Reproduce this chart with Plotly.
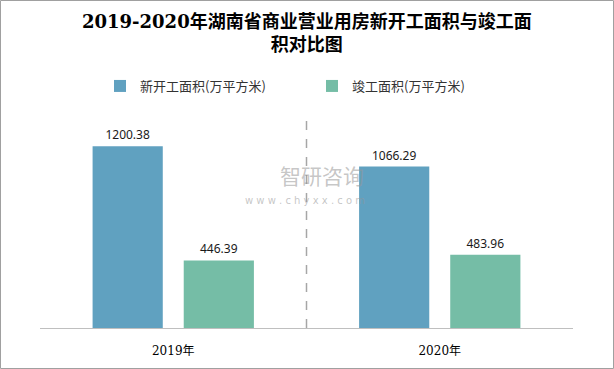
import plotly.graph_objects as go

categories = ["2019年", "2020年"]
new_start = [1200.38, 1066.29]
completed = [446.39, 483.96]
series_names = ["新开工面积(万平方米)", "竣工面积(万平方米)"]
title_text = "2019-2020年湖南省商业营业用房新开工面积与竣工面<br>积对比图"

W, H = 614, 369
ML, MR, MT, MB = 40, 41, 116, 41
PW, PH = W - ML - MR, H - MT - MB

def px(x):
    return (x - ML) / PW

def py(y):
    return (H - MB - y) / PH

fig = go.Figure()
fig.add_trace(go.Bar(
    x=categories, y=new_start, name=series_names[0],
    marker=dict(color="#60A1C0", line=dict(width=0)),
    text=[f"{v:.2f}" for v in new_start], textposition="outside",
    textfont=dict(family="Noto Sans, DejaVu Sans", size=12, color="#1a1a1a"),
    cliponaxis=False,
))
fig.add_trace(go.Bar(
    x=categories, y=completed, name=series_names[1],
    marker=dict(color="#75BDA6", line=dict(width=0)),
    text=[f"{v:.2f}" for v in completed], textposition="outside",
    textfont=dict(family="Noto Sans, DejaVu Sans", size=12, color="#1a1a1a"),
    cliponaxis=False,
))

shapes = [
    dict(type="line", xref="x", yref="paper", x0=0.5, x1=0.5, y0=0, y1=1,
         line=dict(color="#a6a6a6", width=1.5, dash="dash")),
    dict(type="rect", xref="paper", yref="paper",
         x0=px(0.5), x1=px(W - 0.5), y0=py(0.5), y1=py(H - 0.5),
         line=dict(color="#a0a0a0", width=1)),
]

annotations = [
    dict(text="<b>" + title_text + "</b>", xref="paper", yref="paper",
         x=px(307), y=py(33), xanchor="center", yanchor="middle",
         showarrow=False, align="center",
         font=dict(family="DejaVu Serif, Noto Sans CJK SC, serif", size=18, color="#000000")),
    dict(text="智研咨询", xref="paper", yref="paper", x=px(322), y=py(175),
         xanchor="center", yanchor="middle", showarrow=False,
         font=dict(family="Noto Sans CJK SC", size=21, color="rgba(150,150,150,0.55)")),
    dict(text="w w w . c h y x x . c o m", xref="paper", yref="paper", x=px(305), y=py(200),
         xanchor="center", yanchor="middle", showarrow=False,
         font=dict(family="DejaVu Sans", size=10, color="rgba(150,150,150,0.55)")),
]

fig.update_layout(
    width=W, height=H,
    margin=dict(l=ML, r=MR, t=MT, b=MB),
    paper_bgcolor="white", plot_bgcolor="white",
    barmode="group", bargap=0.316, bargroupgap=0.23,
    showlegend=True,
    legend=dict(orientation="h", x=px(100), xanchor="left", y=py(86), yanchor="middle",
                entrywidth=167, entrywidthmode="pixels",
                font=dict(family="Noto Sans CJK SC", size=13, color="#333333"),
                bgcolor="rgba(0,0,0,0)"),
    xaxis=dict(showline=True, linecolor="#bfbfbf", linewidth=1, ticks="",
               showgrid=False, zeroline=False, ticklabelstandoff=12,
               tickfont=dict(family="DejaVu Serif, Noto Sans CJK SC, serif", size=12, color="#000000")),
    yaxis=dict(range=[0, 1400], visible=False, showgrid=False, zeroline=False),
    shapes=shapes, annotations=annotations,
)

fig.write_html("out.html", config={"displayModeBar": False},
               post_script="document.body.style.margin='0';")
